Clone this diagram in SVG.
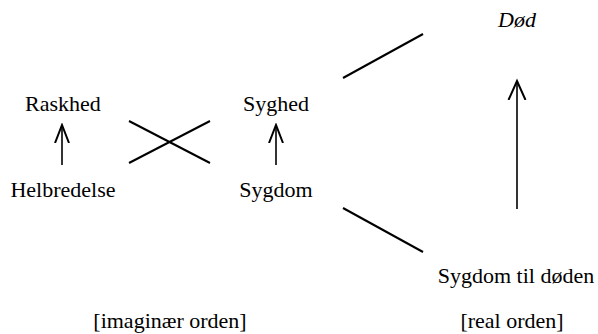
<svg xmlns="http://www.w3.org/2000/svg" width="598" height="334" viewBox="0 0 598 334">
<style>
text{font-family:"Liberation Serif","Times New Roman",serif;font-size:22px;fill:#000;text-anchor:middle}
.it{font-style:italic}
.ln{stroke:#000;stroke-width:2;fill:none;stroke-linecap:butt}
.ar{stroke:#000;stroke-width:1.6;fill:none}
</style>
<defs>
<marker id="ah" markerUnits="userSpaceOnUse" markerWidth="20" markerHeight="20" viewBox="0 0 20 20" refX="18" refY="10" orient="auto">
<path d="M0,3 L18,10 L0,17" fill="none" stroke="#000" stroke-width="2"/>
</marker>
<marker id="ahb" markerUnits="userSpaceOnUse" markerWidth="22" markerHeight="22" viewBox="0 0 22 22" refX="19" refY="11" orient="auto">
<path d="M0,2.5 L19,11 L0,19.5" fill="none" stroke="#000" stroke-width="2"/>
</marker>
</defs>
<g id="raskhed"><text x="63" y="111">Raskhed</text></g>
<g id="helbredelse"><text x="63" y="197">Helbredelse</text></g>
<g id="syghed"><text x="276" y="111">Syghed</text></g>
<g id="sygdom"><text x="276" y="197">Sygdom</text></g>
<g id="dod"><text class="it" x="517" y="27">Død</text></g>
<g id="sygdom-til-doden"><text x="516" y="283">Sygdom til døden</text></g>
<g id="imaginaer"><text x="170" y="328">[imaginær orden]</text></g>
<g id="real"><text x="512" y="328">[real orden]</text></g>
<g id="connectors">
<line class="ar" x1="62" y1="165" x2="62" y2="125" marker-end="url(#ah)"/>
<line class="ar" x1="276" y1="165" x2="276" y2="125" marker-end="url(#ah)"/>
<line class="ar" x1="517" y1="209" x2="517" y2="81" marker-end="url(#ahb)"/>
<line class="ln" x1="129" y1="163" x2="210" y2="121"/>
<line class="ln" x1="129" y1="121" x2="210" y2="163"/>
<line class="ln" x1="343" y1="78" x2="423" y2="34"/>
<line class="ln" x1="343" y1="208" x2="423" y2="252"/>
</g>
</svg>
